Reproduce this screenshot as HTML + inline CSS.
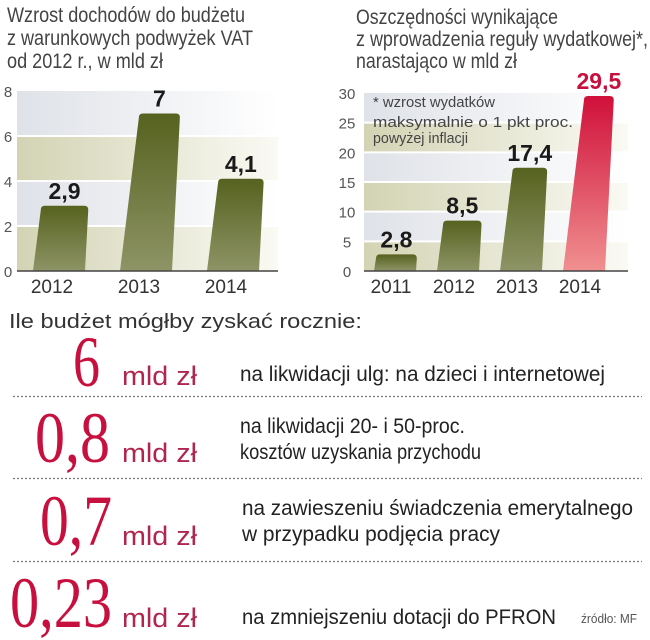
<!DOCTYPE html>
<html><head><meta charset="utf-8"><style>
html,body{margin:0;padding:0;background:#fff;width:650px;height:640px;overflow:hidden}
svg{display:block}
.sans{font-family:"Liberation Sans",sans-serif}
.serif{font-family:"Liberation Serif",serif}
</style></head><body>
<svg id="chart" class="sans" width="650" height="640" viewBox="0 0 650 640" xmlns="http://www.w3.org/2000/svg">
<defs>
<linearGradient id="gLight" x1="0" x2="1" y1="0" y2="0"><stop offset="0" stop-color="#dfe2e8"/><stop offset="1" stop-color="#ffffff"/></linearGradient>
<linearGradient id="gBeige" x1="0" x2="1" y1="0" y2="0"><stop offset="0" stop-color="#d3d3b4"/><stop offset="1" stop-color="#fafaf4"/></linearGradient>
<linearGradient id="gOlive" x1="0" x2="0" y1="0" y2="1"><stop offset="0" stop-color="#56621f"/><stop offset="1" stop-color="#8e9466"/></linearGradient>
<linearGradient id="gRed" x1="0" x2="0" y1="0" y2="1"><stop offset="0" stop-color="#d0103a"/><stop offset="1" stop-color="#f09090"/></linearGradient>
</defs>
<g fill="#444" font-size="21" class="sans">
<text x="7" y="22" textLength="238" lengthAdjust="spacingAndGlyphs">Wzrost dochodów do budżetu</text>
<text x="7" y="45" textLength="246" lengthAdjust="spacingAndGlyphs">z warunkowych podwyżek VAT</text>
<text x="7" y="68" textLength="156" lengthAdjust="spacingAndGlyphs">od 2012 r., w mld zł</text>
<text x="356" y="24" textLength="202" lengthAdjust="spacingAndGlyphs">Oszczędności wynikające</text>
<text x="356" y="46" textLength="292" lengthAdjust="spacingAndGlyphs">z wprowadzenia reguły wydatkowej*,</text>
<text x="356" y="68" textLength="161" lengthAdjust="spacingAndGlyphs">narastająco w mld zł</text>
</g>
<g id="left"></g>
<g id="right"></g>
<g fill="#444" font-size="15" class="sans">
<text x="373" y="107" textLength="122" lengthAdjust="spacingAndGlyphs">* wzrost wydatków</text>
<text x="373" y="127" textLength="200" lengthAdjust="spacingAndGlyphs">maksymalnie o 1 pkt proc.</text>
<text x="373" y="143" textLength="95" lengthAdjust="spacingAndGlyphs">powyżej inflacji</text>
</g>
<text x="9" y="328" font-size="20" fill="#333" textLength="353" lengthAdjust="spacingAndGlyphs">Ile  budżet mógłby zyskać rocznie:</text>
<g stroke="#777" stroke-width="1.2" stroke-dasharray="2,2">
<line x1="13" x2="642" y1="396.5" y2="396.5"/>
<line x1="13" x2="642" y1="478.5" y2="478.5"/>
<line x1="13" x2="642" y1="561.5" y2="561.5"/>
</g>
<g fill="#c8103e" class="serif" font-size="72">
<text x="73" y="386" textLength="27" lengthAdjust="spacingAndGlyphs">6</text>
<text x="35" y="462" textLength="75" lengthAdjust="spacingAndGlyphs">0,8</text>
<text x="40" y="545" textLength="72" lengthAdjust="spacingAndGlyphs">0,7</text>
<text x="10" y="627" textLength="102" lengthAdjust="spacingAndGlyphs">0,23</text>
</g>
<g fill="#b0264f" font-size="27">
<text x="122" y="385" textLength="75" lengthAdjust="spacingAndGlyphs">mld zł</text>
<text x="122" y="462" textLength="75" lengthAdjust="spacingAndGlyphs">mld zł</text>
<text x="122" y="545" textLength="75" lengthAdjust="spacingAndGlyphs">mld zł</text>
<text x="122" y="627" textLength="75" lengthAdjust="spacingAndGlyphs">mld zł</text>
</g>
<g fill="#222" font-size="21">
<text x="240" y="381" textLength="365" lengthAdjust="spacingAndGlyphs">na likwidacji ulg: na dzieci i internetowej</text>
<text x="240" y="433" textLength="225" lengthAdjust="spacingAndGlyphs">na likwidacji 20- i 50-proc.</text>
<text x="240" y="459" textLength="241" lengthAdjust="spacingAndGlyphs">kosztów uzyskania przychodu</text>
<text x="242" y="515" textLength="391" lengthAdjust="spacingAndGlyphs">na zawieszeniu świadczenia emerytalnego</text>
<text x="242" y="541" textLength="258" lengthAdjust="spacingAndGlyphs">w przypadku podjęcia pracy</text>
<text x="242" y="624" textLength="314" lengthAdjust="spacingAndGlyphs">na zmniejszeniu dotacji do PFRON</text>
</g>
<text x="581" y="623" font-size="13" fill="#555" textLength="56" lengthAdjust="spacingAndGlyphs">źródło: MF</text>
</svg>
<script>
const leftYears = ["2012","2013","2014"];
const leftValues = [2.9, 7, 4.1];
const leftLabels = ["2,9","7","4,1"];
const leftTicks = [0,2,4,6,8];
const rightYears = ["2011","2012","2013","2014"];
const rightValues = [2.8, 8.5, 17.4, 29.5];
const rightLabels = ["2,8","8,5","17,4","29,5"];
const rightTicks = [0,5,10,15,20,25,30];
const NS="http://www.w3.org/2000/svg";
function mk(parent,tag,attrs){const e=document.createElementNS(NS,tag);for(const k in attrs)e.setAttribute(k,attrs[k]);parent.appendChild(e);return e;}
function draw(g,cfg){
  const y=v=>cfg.y0-(v-cfg.min)/(cfg.max-cfg.min)*(cfg.y0-cfg.y1);
  const n=cfg.ticks.length;
  for(let i=0;i<n-1;i++){
    const b=mk(g,'rect',{x:cfg.x0,y:y(cfg.ticks[i+1]),width:cfg.x1-cfg.x0,height:y(cfg.ticks[i])-y(cfg.ticks[i+1]),fill:((n-2-i)%2===0)?'url(#gLight)':'url(#gBeige)'});
    
    
    if(i>0){const l=mk(g,'line',{x1:cfg.x0,x2:cfg.x1,y1:y(cfg.ticks[i]),y2:y(cfg.ticks[i]),stroke:'#fff','stroke-width':2});
      
      }
  }
  cfg.ticks.forEach(t=>{const tx=mk(g,'text',{x:cfg.tickX,y:y(t)+6,'font-size':15,fill:'#555','text-anchor':'middle'});tx.textContent=t;
    
    });
  cfg.values.forEach((v,i)=>{
    const cx=cfg.x0+cfg.firstC+i*cfg.step, h=cfg.y0-y(v), top=y(v), w=cfg.bw;
    const bl=cx-w/2, br=cx+w/2, tl=bl+0.12*h, tr=br+0.05*h, r=4;
    const d=`M${bl},${cfg.y0} L${tl},${top+r} Q${tl},${top} ${tl+r},${top} L${tr-r},${top} Q${tr},${top} ${tr},${top+r} L${br},${cfg.y0} Z`;
    const p=mk(g,'path',{d:d,fill:(cfg.red&&i===cfg.values.length-1)?'url(#gRed)':'url(#gOlive)'});
    
    
    const lb=mk(g,'text',{x:(tl+tr)/2,y:top-7,'font-size':23,'font-weight':'bold',fill:(cfg.red&&i===cfg.values.length-1)?'#c8103e':'#1a1a1a','text-anchor':'middle'});
    lb.textContent=cfg.labels[i];
    
    
    const yr=mk(g,'text',{x:cx+cfg.yearOff,y:293,'font-size':19,fill:'#333','text-anchor':'middle'});
    yr.textContent=cfg.years[i];
    
    
  });
  const ax=mk(g,'line',{x1:cfg.x0,x2:cfg.x1,y1:cfg.y0,y2:cfg.y0,stroke:'#444','stroke-width':1.5});
  
  
}
draw(document.getElementById('left'),{values:leftValues,labels:leftLabels,years:leftYears,ticks:leftTicks,min:0,max:8,x0:17,x1:278,y0:271,y1:91,tickX:8,firstC:42,step:87,bw:52,yearOff:-7,red:false});
draw(document.getElementById('right'),{values:rightValues,labels:rightLabels,years:rightYears,ticks:rightTicks,min:0,max:30,x0:364,x1:628,y0:271,y1:93,tickX:347,firstC:31,step:63,bw:42,yearOff:-4,red:true});
</script>
</body></html>
